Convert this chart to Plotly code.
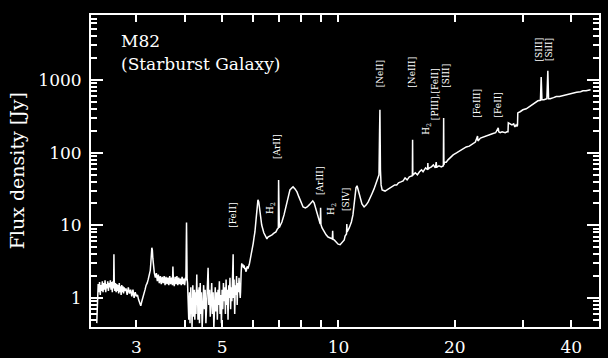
import numpy as np
import plotly.graph_objects as go

# ---- spectrum, segment 1 (2.4 - 4.06 um) ----
wl1 = [2.37,2.38,2.39,2.40,2.41,2.42,2.43,2.44,2.45,2.46,
       2.47,2.48,2.49,2.50,2.51,2.52,2.53,2.54,2.55,2.56,
       2.57,2.58,2.59,2.60,2.61,2.62,2.625,2.63,2.64,2.65,
       2.66,2.67,2.68,2.69,2.70,2.71,2.72,2.73,2.74,2.75,
       2.76,2.77,2.78,2.79,2.80,2.82,2.84,2.86,2.88,2.90,
       2.92,2.94,2.96,2.98,3.00,3.02,3.04,3.06,3.08,3.10,
       3.12,3.14,3.16,3.18,3.20,3.22,3.24,3.26,3.27,3.28,
       3.29,3.30,3.31,3.32,3.34,3.36,3.38,3.40,3.42,3.44,
       3.46,3.48,3.50,3.52,3.54,3.56,3.58,3.60,3.62,3.64,
       3.66,3.68,3.70,3.72,3.73,3.74,3.76,3.78,3.80,3.82,
       3.84,3.86,3.88,3.90,3.92,3.94,3.96,3.98,4.00,4.02,
       4.03,4.045,4.05,4.055,4.06]
fl1 = [0.45,1.15,1.55,1.20,1.65,1.10,1.50,1.25,1.70,1.20,
       1.60,1.30,1.75,1.20,1.55,1.35,1.70,1.25,1.60,1.40,
       1.75,1.30,1.65,1.20,1.70,1.35,4.00,1.75,1.25,1.60,
       1.20,1.55,1.25,1.50,1.15,1.60,1.20,1.45,1.10,1.50,
       1.20,1.45,1.15,1.40,1.25,1.35,1.10,1.40,1.15,1.30,
       1.05,1.30,1.00,1.20,1.05,1.10,0.95,0.85,0.78,0.90,
       1.00,1.10,1.30,1.50,1.60,1.80,2.00,2.40,3.00,3.90,
       4.90,4.60,3.50,2.60,2.20,1.90,2.20,1.70,2.10,1.60,
       2.00,1.55,1.95,1.60,2.00,1.50,1.95,1.55,1.90,1.50,
       2.00,1.55,1.90,1.50,2.70,1.85,1.45,1.95,1.55,2.00,
       1.50,1.90,1.55,1.85,1.50,1.95,1.55,1.85,1.50,1.90,
       1.75,10.9,2.0,9.5,1.8]

# ---- segment 2 (noisy 4.07 - 5.57 um) ----
wl2 = [4.07,4.08,4.09,4.10,4.11,4.12,4.13,4.14,4.15,4.16,
       4.17,4.18,4.19,4.20,4.21,4.22,4.23,4.24,4.25,4.26,
       4.27,4.28,4.29,4.30,4.31,4.32,4.33,4.34,4.35,4.36,
       4.37,4.38,4.39,4.40,4.42,4.44,4.46,4.48,4.50,4.52,
       4.54,4.56,4.58,4.60,4.62,4.64,4.66,4.68,4.70,4.72,
       4.74,4.76,4.78,4.80,4.82,4.84,4.86,4.88,4.90,4.92,
       4.94,4.96,4.98,5.00,5.02,5.04,5.06,5.08,5.10,5.12,
       5.14,5.16,5.18,5.20,5.22,5.24,5.26,5.28,5.30,5.32,
       5.34,5.35,5.37,5.39,5.41,5.43,5.45,5.47,5.49,5.51,
       5.53,5.55,5.57]
fl2 = [1.6,0.9,1.3,0.5,0.7,1.2,0.45,0.9,1.4,0.6,
       1.0,0.38,0.8,1.5,0.55,1.1,0.7,1.3,0.5,0.9,
       1.2,0.6,1.0,2.1,0.8,1.3,0.5,1.1,0.7,1.4,
       0.45,1.0,1.6,0.6,1.2,0.38,1.0,1.5,0.7,1.3,
       0.45,1.1,1.4,2.6,0.8,1.3,0.55,1.0,1.6,0.6,
       1.2,0.38,1.0,1.4,0.65,1.2,0.5,1.3,0.8,1.7,
       0.6,1.1,0.45,1.3,0.7,1.6,0.9,1.4,0.6,1.8,
       0.8,1.3,0.5,1.5,1.0,1.9,0.7,1.4,0.9,1.6,
       4.0,1.0,1.8,0.6,1.5,1.1,2.0,0.8,1.6,1.2,
       1.9,1.3,1.0]

# ---- segment 3 (5.58 - 12.73 um, PAH features) ----
wl3 = [5.58,5.60,5.62,5.64,5.66,5.68,5.70,5.72,5.74,5.76,
       5.78,5.80,5.84,5.88,5.91,5.98,6.02,6.05,6.08,6.12,
       6.15,6.19,6.22,6.26,6.30,6.33,6.41,6.49,6.53,6.57,
       6.65,6.73,6.81,6.89,6.95,6.99,7.00,7.01,7.03,7.06,
       7.14,7.23,7.32,7.41,7.49,7.58,7.63,7.72,7.81,7.90,
       8.00,8.10,8.21,8.30,8.40,8.50,8.58,8.65,8.75,8.86,
       8.97,8.99,9.01,9.07,9.18,9.29,9.40,9.52,9.64,9.66,
       9.68,9.75,9.86,9.98,10.1,10.2,10.35,10.40,10.49,10.51,
       10.53,10.66,10.8,10.9,10.98,11.04,11.1,11.17,11.24,11.38,
       11.5,11.65,11.8,11.94,12.08,12.2,12.36,12.5,12.66,12.73]
fl3 = [1.2,2.2,3.0,2.7,2.9,2.6,2.8,2.5,2.6,2.3,
       2.4,2.7,2.6,2.9,3.3,4.6,5.7,6.9,8.1,11.9,
       16.3,22.4,21.0,16.3,12.6,10.1,7.9,6.7,6.5,6.9,
       7.1,7.4,7.8,8.1,8.9,9.2,42.0,9.3,9.3,9.8,
       11.1,13.9,18.5,24.6,30.7,32.8,33.8,31.7,28.8,24.6,
       20.4,17.9,17.4,17.9,19.1,21.0,21.7,20.4,16.3,13.0,
       10.4,17.4,10.2,9.2,8.1,7.4,6.9,6.7,6.5,8.4,
       6.4,6.3,5.9,5.5,5.4,5.7,6.3,7.1,7.6,10.4,
       8.1,9.2,11.1,13.9,18.5,25.3,32.8,35.0,30.7,23.7,
       19.7,17.9,19.1,21.0,23.7,27.0,31.7,38.4,46.4,49.5]

# ---- segment 4 (12.77 - 45 um) ----
wl4 = [12.77,12.8,12.84,12.89,12.97,13.2,13.35,13.5,13.65,13.8,
       13.98,14.15,14.3,14.5,14.7,14.87,15.05,15.25,15.45,15.53,
       15.55,15.57,15.6,15.8,16.0,16.2,16.4,16.55,16.8,17.0,
       17.03,17.06,17.2,17.4,17.6,17.8,17.9,17.95,18.0,18.2,
       18.45,18.68,18.71,18.74,18.8,19.0,19.2,19.45,19.8,20.2,
       20.6,21.0,21.4,21.8,22.2,22.6,22.9,22.95,23.3,23.7,
       24.2,24.6,25.0,25.5,25.9,25.98,26.2,26.5,27.0,27.3,
       27.45,27.5,27.8,28.1,28.4,28.6,28.8,28.95,29.05,29.1,
       29.5,30.0,30.6,31.1,31.7,32.2,32.8,33.3,33.45,33.6,
       34.0,34.6,34.8,34.95,35.3,36.0,36.6,37.3,37.9,38.6,
       39.3,40.0,40.6,41.3,42.3,42.9,43.7,44.4,44.9]
fl4 = [176,389,58,36,30.7,29.6,30.7,31.7,32.8,33.8,
       36,36,38.4,39.6,40.9,44.9,42.2,46.4,47.9,48,
       150,49,49.5,52.8,49.5,54.5,58,54.5,61.8,58,
       72,59,61.8,63.8,67.9,61.8,74,62,63.8,65.8,
       63.8,66,300,68,74,74,79.6,84.6,93.3,99,
       105,112,120,123,132,140,169,145,159,165,
       171,176,182,188,219,194,188,194,188,194,
       194,257,249,241,249,226,241,230,240,353,
       366,389,402,424,455,487,517,525,1100,534,
       534,552,1340,552,552,572,591,595,610,625,
       640,650,670,680,690,710,710,733,733]

# ---- line identifications ----
line_labels = ["[FeII]", "H<sub>2</sub>", "[ArII]", "[ArIII]", "H<sub>2</sub>", "[SIV]",
               "[NeII]", "[NeIII]", "H<sub>2</sub>", "[PIII],[FeII]", "[SIII]",
               "[FeIII]", "[FeII]", "[SIII]", "[SiII]"]
label_wl = [5.33, 6.70, 6.94, 8.97, 9.62, 10.47,
            12.77, 15.49, 16.94, 17.8, 18.96,
            22.8, 25.8, 32.96, 35.1]
label_flux = [13.9, 17.4, 120, 40.9, 16.8, 22.4,
              1217, 1297, 213, 645, 1143,
              485, 455, 2606, 2606]

x_tickvals = [3, 5, 10, 20, 40]
x_ticktext = ["3", "5", "10", "20", "40"]
x_minor = [4, 6, 7, 8, 9, 30]
y_tickvals = [1, 10, 100, 1000]
y_ticktext = ["1", "10", "100", "1000"]
y_minor = [m * d for d in [0.1, 1, 10, 100, 1000] for m in range(2, 10)]

wl = wl1 + wl2 + wl3 + wl4
flux = fl1 + fl2 + fl3 + fl4
assert len(wl) == len(flux)

FONT = "DejaVu Serif"

fig = go.Figure()
fig.add_trace(go.Scatter(x=wl, y=flux, mode="lines",
                         line=dict(color="white", width=1.5), showlegend=False))

annotations = []
for t, lx, ly in zip(line_labels, label_wl, label_flux):
    annotations.append(dict(x=np.log10(lx), y=np.log10(ly), xref="x", yref="y",
                            text=t, textangle=-90, showarrow=False,
                            font=dict(family=FONT, size=9, color="white"),
                            xanchor="center", yanchor="middle"))

annotations.append(dict(x=0.055, y=0.918, xref="paper", yref="paper", text="M82",
                        showarrow=False, xanchor="left", yanchor="middle",
                        font=dict(family=FONT, size=17, color="white")))
annotations.append(dict(x=0.055, y=0.844, xref="paper", yref="paper",
                        text="(Starburst Galaxy)", showarrow=False,
                        xanchor="left", yanchor="middle",
                        font=dict(family=FONT, size=17, color="white")))
annotations.append(dict(x=-0.145, y=0.5, xref="paper", yref="paper",
                        text="Flux density [Jy]", textangle=-90, showarrow=False,
                        xanchor="center", yanchor="middle",
                        font=dict(family=FONT, size=19, color="white")))

fig.update_layout(
    width=608, height=358,
    margin=dict(l=91, r=9, t=15, b=31),
    paper_bgcolor="black", plot_bgcolor="black",
    annotations=annotations,
    xaxis=dict(type="log", range=[np.log10(2.29), np.log10(47.2)], automargin=False,
               tickmode="array", tickvals=x_tickvals, ticktext=x_ticktext,
               ticks="inside", ticklen=7, tickwidth=1.5, tickcolor="white",
               minor=dict(tickmode="array", tickvals=x_minor, ticks="inside",
                          ticklen=7, tickwidth=1.5, tickcolor="white", showgrid=False),
               showline=True, linecolor="white", linewidth=2, mirror="ticks",
               showgrid=False, zeroline=False, ticklabelstandoff=4,
               tickfont=dict(family=FONT, size=17, color="white")),
    yaxis=dict(type="log", range=[-0.40, 3.895], automargin=False,
               tickmode="array", tickvals=y_tickvals, ticktext=y_ticktext,
               ticks="inside", ticklen=12, tickwidth=1.5, tickcolor="white",
               minor=dict(tickmode="array", tickvals=y_minor, ticks="inside",
                          ticklen=6, tickwidth=1.5, tickcolor="white", showgrid=False),
               showline=True, linecolor="white", linewidth=2, mirror="ticks",
               showgrid=False, zeroline=False, ticklabelstandoff=4,
               tickfont=dict(family=FONT, size=17, color="white")),
)

fig.write_html("out.html")
